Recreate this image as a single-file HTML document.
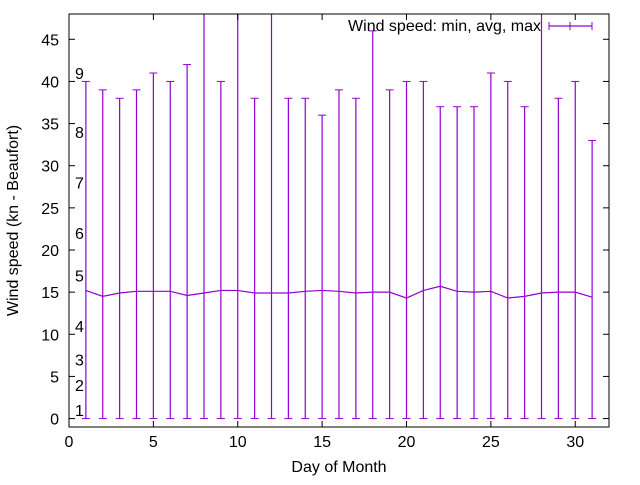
<!DOCTYPE html>
<html><head><meta charset="utf-8"><style>body{margin:0;background:#fff}svg text{font-family:"Liberation Sans",sans-serif;font-size:16px;fill:#000}</style></head>
<body>
<svg id="chart" width="640" height="480" xmlns="http://www.w3.org/2000/svg">
<g id="g"></g>
</svg>
<script>
const days=[1,2,3,4,5,6,7,8,9,10,11,12,13,14,15,16,17,18,19,20,21,22,23,24,25,26,27,28,29,30,31];
const minVals=[0,0,0,0,0,0,0,0,0,0,0,0,0,0,0,0,0,0,0,0,0,0,0,0,0,0,0,0,0,0,0];
const avgVals=[15.2,14.5,14.9,15.1,15.1,15.1,14.6,14.9,15.2,15.2,14.9,14.9,14.9,15.1,15.2,15.1,14.9,15,15,14.3,15.2,15.7,15.1,15,15.1,14.3,14.5,14.9,15,15,14.4];
const maxVals=[40,39,38,39,41,40,42,55,40,55,38,55,38,38,36,39,38,46,39,40,40,37,37,37,41,40,37,55,38,40,33];
const xTicks=[0,5,10,15,20,25,30];
const yTicks=[0,5,10,15,20,25,30,35,40,45];
const beaufort=[[1,1],[2,4],[3,7],[4,11],[5,17],[6,22],[7,28],[8,34],[9,41]];
const L=69,R=609,T=14,B=427,X0=0,X1=32,Y0=-1,Y1=48;
const sx=v=>L+(v-X0)/(X1-X0)*(R-L);
const sy=v=>B-(v-Y0)/(Y1-Y0)*(B-T);
const g=document.getElementById('g');const NS='http://www.w3.org/2000/svg';
function mk(t,a,txt){const e=document.createElementNS(NS,t);for(const k in a)e.setAttribute(k,a[k]);if(txt!=null)e.textContent=txt;g.appendChild(e);return e;}
const C='#9400d3';
const defs=mk('defs',{});const cp=document.createElementNS(NS,'clipPath');cp.setAttribute('id','cp');const cr=document.createElementNS(NS,'rect');cr.setAttribute('x',L);cr.setAttribute('y',T);cr.setAttribute('width',R-L);cr.setAttribute('height',B-T);cp.appendChild(cr);defs.appendChild(cp);
days.forEach((d,i)=>{const x=sx(d);
const l=mk('line',{x1:x,x2:x,y1:sy(minVals[i]),y2:sy(maxVals[i]),stroke:C,'stroke-width':1.2,'clip-path':'url(#cp)'});


[minVals[i],maxVals[i]].forEach(v=>{if(v<=Y1){mk('line',{x1:x-4,x2:x+4,y1:sy(v),y2:sy(v),stroke:C,'stroke-width':1});}});
});
const pl=mk('polyline',{points:days.map((d,i)=>sx(d)+','+sy(avgVals[i])).join(' '),fill:'none',stroke:C,'stroke-width':1.2});


const fr=mk('rect',{x:L,y:T,width:R-L,height:B-T,fill:'none',stroke:'#000','stroke-width':1});


xTicks.forEach(v=>{const x=sx(v);mk('line',{x1:x,x2:x,y1:B,y2:B-6,stroke:'#000'});mk('line',{x1:x,x2:x,y1:T,y2:T+6,stroke:'#000'});
const t=mk('text',{x:x,y:B+20,'text-anchor':'middle'},v);});
yTicks.forEach(v=>{const y=sy(v);mk('line',{x1:L,x2:L+6,y1:y,y2:y,stroke:'#000'});mk('line',{x1:R,x2:R-6,y1:y,y2:y,stroke:'#000'});
const t=mk('text',{x:L-10,y:y+6,'text-anchor':'end'},v);});
beaufort.forEach(b=>{const t=mk('text',{x:75,y:sy(b[1])+6},b[0]);});
const xt=mk('text',{x:(L+R)/2,y:472,'text-anchor':'middle'},'Day of Month');
const yt=mk('text',{x:0,y:0,'text-anchor':'middle',transform:'translate(18,'+((T+B)/2)+') rotate(-90)'},'Wind speed (kn - Beaufort)');
const lt=mk('text',{x:541,y:31,'text-anchor':'end'},'Wind speed: min, avg, max');
const ll=mk('line',{x1:549,x2:592,y1:26,y2:26,stroke:C,'stroke-width':1.2});
[549,592,570].forEach(x=>mk('line',{x1:x,x2:x,y1:22,y2:30,stroke:C}));
</script>
</body></html>
